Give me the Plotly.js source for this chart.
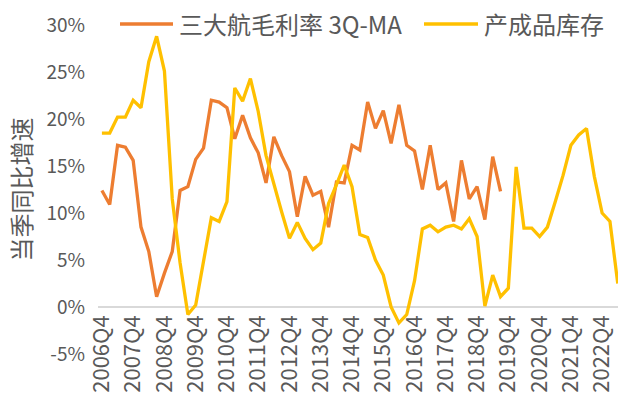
<!DOCTYPE html>
<html>
<head>
<meta charset="utf-8">
<script src="https://cdn.plot.ly/plotly-3.0.1.min.js"></script>
<style>html,body{margin:0;padding:0;background:#fff;}#chart{width:618px;height:401px;}</style>
</head>
<body>
<div id="chart"></div>
<script>
var quarters = ['2006Q4',
 '2007Q1','2007Q2','2007Q3','2007Q4','2008Q1','2008Q2','2008Q3','2008Q4',
 '2009Q1','2009Q2','2009Q3','2009Q4','2010Q1','2010Q2','2010Q3','2010Q4',
 '2011Q1','2011Q2','2011Q3','2011Q4','2012Q1','2012Q2','2012Q3','2012Q4',
 '2013Q1','2013Q2','2013Q3','2013Q4','2014Q1','2014Q2','2014Q3','2014Q4',
 '2015Q1','2015Q2','2015Q3','2015Q4','2016Q1','2016Q2','2016Q3','2016Q4',
 '2017Q1','2017Q2','2017Q3','2017Q4','2018Q1','2018Q2','2018Q3','2018Q4',
 '2019Q1','2019Q2','2019Q3','2019Q4','2020Q1','2020Q2','2020Q3','2020Q4',
 '2021Q1','2021Q2','2021Q3','2021Q4','2022Q1','2022Q2','2022Q3','2022Q4',
 '2023Q1','2023Q2'];

// 三大航毛利率 3Q-MA (%), 2006Q4 - 2019Q3
var marginMA = [12.4, 10.9, 17.2, 17.0, 15.6, 8.5, 5.9, 1.1, 3.6, 5.9,
 12.4, 12.8, 15.7, 16.9, 22.0, 21.8, 21.2, 17.9, 20.4, 18.0,
 16.4, 13.2, 18.1, 16.1, 14.4, 9.6, 13.9, 11.9, 12.3, 8.5,
 13.3, 13.2, 17.2, 16.7, 21.8, 19.0, 20.9, 17.4, 21.5, 17.2,
 16.6, 12.5, 17.2, 12.5, 13.2, 9.1, 15.6, 11.5, 12.8, 9.3,
 16.0, 12.3];

// 产成品库存 (%), 2006Q4 - 2023Q2
var inventory = [18.5, 18.5, 20.2, 20.2, 22.0, 21.2, 26.1, 28.8, 25.1, 11.5,
 4.7, -0.8, 0.2, 4.8, 9.5, 9.1, 11.2, 23.3, 21.9, 24.3,
 20.8, 16.1, 13.0, 10.1, 7.3, 9.0, 7.3, 6.1, 6.8, 11.0,
 13.0, 15.1, 12.8, 7.7, 7.4, 5.0, 3.4, 0.0, -1.7, -0.8,
 2.8, 8.3, 8.7, 8.0, 8.5, 8.7, 8.3, 9.4, 7.5, 0.1,
 3.4, 1.1, 2.0, 14.9, 8.4, 8.4, 7.5, 8.5, 11.2, 14.0,
 17.2, 18.3, 19.0, 13.9, 10.0, 9.1, 2.5];

var seriesNames = ['三大航毛利率 3Q-MA', '产成品库存'];
var seriesColors = ['#ED7D31', '#FFC000'];
var xTickVals = ['2006Q4','2007Q4','2008Q4','2009Q4','2010Q4','2011Q4','2012Q4','2013Q4',
 '2014Q4','2015Q4','2016Q4','2017Q4','2018Q4','2019Q4','2020Q4','2021Q4','2022Q4'];
var yTickVals = [-5, 0, 5, 10, 15, 20, 25, 30];
var yTickText = ['-5%', '0%', '5%', '10%', '15%', '20%', '25%', '30%'];
var yTitle = '当季同比增速';

var FONT = '"Noto Sans CJK SC", "Noto Sans", sans-serif';
var GREY = '#595959';
var W = 618, H = 401, ML = 98, MR = 0, MT = 25, MB = 47;

var traces = [
  {type: 'scatter', mode: 'lines', name: seriesNames[0], showlegend: false,
   x: quarters.slice(0, marginMA.length), y: marginMA,
   line: {color: seriesColors[0], width: 3.3}},
  {type: 'scatter', mode: 'lines', name: seriesNames[1], showlegend: false,
   x: quarters.slice(0, inventory.length), y: inventory,
   line: {color: seriesColors[1], width: 3.3}}
];

// legend drawn in paper coordinates (pixel -> paper conversion)
function px(xp) { return (xp - ML) / (W - ML - MR); }
function py(yp) { return (H - MB - yp) / (H - MT - MB); }
var legendItems = [
  {lineX0: 120, lineX1: 173, textX: 177},
  {lineX0: 424, lineX1: 478, textX: 482}
];
var legendY = 24;
var shapes = [], annotations = [];
legendItems.forEach(function (it, i) {
  shapes.push({type: 'line', xref: 'paper', yref: 'paper',
    x0: px(it.lineX0), x1: px(it.lineX1), y0: py(legendY), y1: py(legendY),
    line: {color: seriesColors[i], width: 3.3}});
  annotations.push({xref: 'paper', yref: 'paper', x: px(it.textX), y: py(legendY),
    xanchor: 'left', yanchor: 'middle', showarrow: false, text: seriesNames[i],
    font: {family: FONT, size: 24, color: GREY}});
});

var layout = {
  width: W, height: H,
  margin: {l: ML, r: MR, t: MT, b: MB},
  paper_bgcolor: '#ffffff', plot_bgcolor: '#ffffff',
  font: {family: FONT, color: GREY, size: 19},
  showlegend: false,
  shapes: shapes,
  annotations: annotations,
  xaxis: {type: 'category', categoryorder: 'array', categoryarray: quarters,
    range: [-0.5, 66.03], anchor: 'free', position: 5/35,
    tickmode: 'array', tickvals: xTickVals, tickangle: -90,
    showgrid: false, zeroline: false, showline: false, ticks: '',
    tickfont: {family: FONT, size: 22, color: GREY}, ticklabelstandoff: 3,
    fixedrange: true},
  yaxis: {range: [-5, 30], tickmode: 'array', tickvals: yTickVals, ticktext: yTickText,
    showgrid: false, zeroline: true, zerolinecolor: '#D9D9D9', zerolinewidth: 2,
    showline: false, ticks: '', ticklabelstandoff: 12,
    tickfont: {family: FONT, size: 19, color: GREY},
    title: {text: yTitle, font: {family: FONT, size: 24, color: GREY}, standoff: 8},
    automargin: false, fixedrange: true}
};

Plotly.newPlot('chart', traces, layout, {displayModeBar: false, staticPlot: true});
</script>
</body>
</html>
